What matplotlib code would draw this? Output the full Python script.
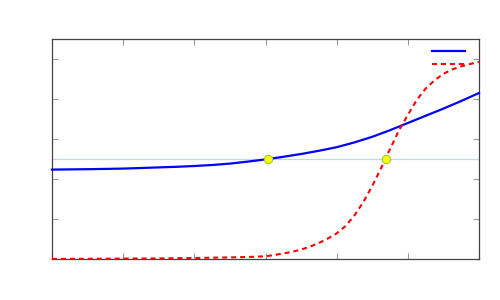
import matplotlib
matplotlib.use("Agg")
import matplotlib.pyplot as plt
from matplotlib.lines import Line2D

# data
blue_x = [-3.0, -2.75, -2.5, -2.25, -2.0, -1.75, -1.5, -1.25, -1.0, -0.75,
          -0.5, -0.25, 0.0, 0.25, 0.5, 0.75, 1.0, 1.25, 1.5, 1.75, 2.0,
          2.25, 2.5, 2.75, 3.0]
blue = [0.447, 0.448, 0.449, 0.4505, 0.452, 0.455, 0.458, 0.461, 0.465, 0.470,
        0.477, 0.487, 0.498, 0.511, 0.525, 0.541, 0.559, 0.583, 0.611, 0.644,
        0.680, 0.716, 0.752, 0.790, 0.830]
red_x = [-3.0, -2.5, -2.0, -1.5, -1.0, -0.5, -0.25, 0.0, 0.125, 0.25, 0.375,
         0.5, 0.625, 0.75, 0.875, 1.0, 1.125, 1.25, 1.375, 1.5, 1.625, 1.75,
         1.875, 2.0, 2.125, 2.25, 2.375, 2.5, 2.625, 2.75, 2.875, 3.0]
red = [0.0005, 0.001, 0.002, 0.003, 0.005, 0.008, 0.010, 0.0135, 0.020, 0.028,
       0.036, 0.047, 0.062, 0.080, 0.102, 0.128, 0.165, 0.218, 0.285, 0.365,
       0.455, 0.550, 0.643, 0.720, 0.795, 0.852, 0.893, 0.926, 0.948, 0.963,
       0.975, 0.985]
mark_x = [0.03, 1.69]
mark_y = [0.5, 0.5]
ref_level = 0.5
xticks = [-3, -2, -1, 0, 1, 2, 3]
yticks = [0.0, 0.2, 0.4, 0.6, 0.8, 1.0]

fig = plt.figure(figsize=(5, 3), dpi=100)
ax = fig.add_axes([52/500, 1-259/300, 427/500, 220/300])

ax.axhline(ref_level, color='#b8dce8', lw=0.9, zorder=1)
ax.plot(blue_x, blue, color='#0000ff', lw=1.6, zorder=3, clip_on=False,
        solid_joinstyle='round')
ax.plot(red_x, red, color='#ff0000', lw=1.5, ls=(0, (2.4, 1.9)), zorder=3,
        clip_on=False)
ax.plot(mark_x, mark_y, 'o', ms=6, mfc='#ffff00', mec='#9acd32', mew=0.8, zorder=4)

ax.set_xlim(-3, 3)
ax.set_ylim(0, 1.1)
ax.set_xticks(xticks)
ax.set_yticks(yticks)
ax.tick_params(direction='in', length=4, width=0.8, color='#999999',
               top=True, right=True, labelbottom=False, labelleft=False)
for s in ax.spines.values():
    s.set_color('#444444')
    s.set_linewidth(0.9)

# legend samples (no text)
ax.add_line(Line2D([0.89, 0.967], [0.947, 0.947], transform=ax.transAxes,
                   color='#0000ff', lw=1.6))
ax.add_line(Line2D([0.89, 0.967], [0.888, 0.888], transform=ax.transAxes,
                   color='#ff0000', lw=1.5, ls=(0, (2.4, 1.9))))

fig.savefig('out.png', dpi=100)
